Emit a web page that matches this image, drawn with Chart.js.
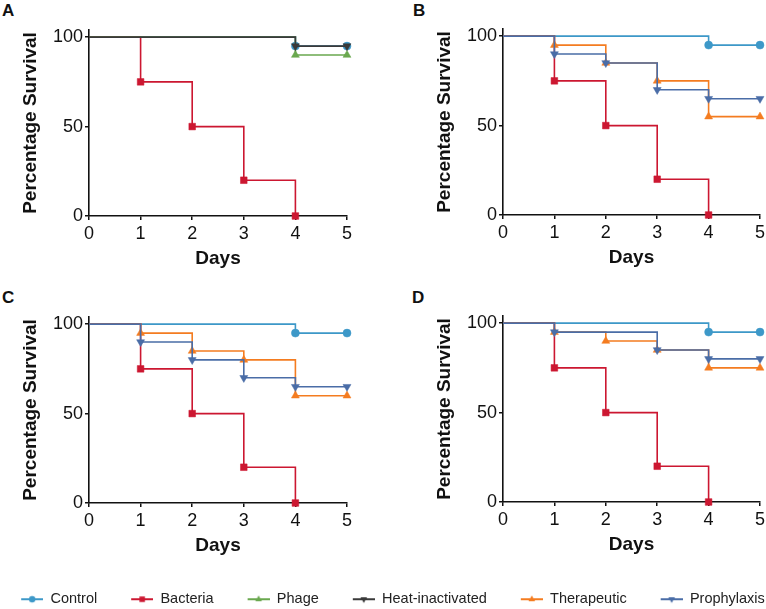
<!DOCTYPE html>
<html>
<head>
<meta charset="utf-8">
<script src="https://cdn.jsdelivr.net/npm/chart.js@4.4.1/dist/chart.umd.min.js"></script>
<style>
  html, body { margin: 0; padding: 0; background: #fff; overflow: hidden; }
  body { width: 766px; height: 609px; position: relative; font-family: "Liberation Sans", Arial, sans-serif; }
  canvas { position: absolute; }
  .tag { position: absolute; font-weight: bold; font-size: 17px; line-height: 1; color: #111; }
</style>
</head>
<body>
<div class="tag" style="left:2px;top:2px">A</div>
<div class="tag" style="left:413px;top:2px">B</div>
<div class="tag" style="left:2px;top:289px">C</div>
<div class="tag" style="left:412px;top:289px">D</div>

<canvas id="chartA" width="383" height="280" style="left:0;top:0"></canvas>
<canvas id="chartB" width="383" height="280" style="left:383px;top:0"></canvas>
<canvas id="chartC" width="383" height="280" style="left:0;top:287px"></canvas>
<canvas id="chartD" width="383" height="280" style="left:383px;top:287px"></canvas>
<canvas id="legend" width="800" height="60" style="left:-19px;top:582px"></canvas>

<script>
const days = [0, 1, 2, 3, 4, 5];
const survivalTicks = [0, 50, 100];
const groups = ['Control', 'Bacteria', 'Phage', 'Heat-inactivated', 'Therapeutic', 'Prophylaxis'];

// percentage survival at each day (null = nobody left)
const controlA = [100, 100, 100, 100, 95, 95];
const bacteriaA = [100, 75, 50, 20, 0, null];
const phageA = [100, 100, 100, 100, 90, 90];
const heatA = [100, 100, 100, 100, 95, 95];

const controlB = [100, 100, 100, 100, 95, 95];
const bacteriaB = [100, 75, 50, 20, 0, null];
const therapeuticB = [100, 95, 85, 75, 55, 55];
const prophylaxisB = [100, 90, 85, 70, 65, 65];

const controlC = [100, 100, 100, 100, 95, 95];
const bacteriaC = [100, 75, 50, 20, 0, null];
const therapeuticC = [100, 95, 85, 80, 60, 60];
const prophylaxisC = [100, 90, 80, 70, 65, 65];

const controlD = [100, 100, 100, 100, 95, 95];
const bacteriaD = [100, 75, 50, 20, 0, null];
const therapeuticD = [100, 95, 90, 85, 75, 75];
const prophylaxisD = [100, 95, 95, 85, 80, 80];

const FONT = '"Liberation Sans", Arial, sans-serif';
const INK = '#111';
Chart.defaults.font.family = FONT;

const look = {
  'Control':          { color: '#3d98c8', style: 'circle',   rot: 0,   r: 4.0 },
  'Bacteria':         { color: '#cc1731', style: 'rect',     rot: 0,   r: 4.7 },
  'Phage':            { color: '#6aa84f', style: 'triangle', rot: 0,   r: 4.6 },
  'Heat-inactivated': { color: '#3a3a3a', style: 'triangle', rot: 180, r: 4.6 },
  'Therapeutic':      { color: '#f47c20', style: 'triangle', rot: 0,   r: 4.6 },
  'Prophylaxis':      { color: '#4a6da7', style: 'triangle', rot: 180, r: 4.6 }
};

// Kaplan-Meier style points: start, every drop, and the last day
function kmPoints(values) {
  const pts = [];
  values.forEach((v, i) => {
    if (v === null) return;
    if (i === 0 || v !== values[i - 1] || i === values.length - 1) {
      pts.push({ x: days[i], y: v });
    }
  });
  return pts;
}

function series(name, values, idx, n) {
  const s = look[name];
  return {
    label: name,
    data: kmPoints(values),
    stepped: true,
    borderColor: s.color,
    backgroundColor: s.color,
    borderWidth: 1.6,
    pointStyle: s.style,
    pointRotation: s.rot,
    pointRadius: ctx => ctx.dataIndex === 0 ? 0 : s.r,
    pointBorderWidth: 0.5,
    pointBorderColor: s.color,
    pointBackgroundColor: s.color,
    clip: false,
    order: n - idx
  };
}

function makePanel(id, names, values, pad) {
  const sets = names.map((nm, i) => series(nm, values[i], i, names.length));
  return new Chart(document.getElementById(id), {
    type: 'line',
    data: { datasets: sets },
    options: {
      responsive: false,
      animation: false,
      layout: { padding: pad },
      plugins: { legend: { display: false }, tooltip: { enabled: false } },
      scales: {
        x: {
          type: 'linear', min: 0, max: 5,
          afterBuildTicks: axis => { axis.ticks = days.map(v => ({ value: v })); },
          afterFit: axis => { axis.height = 54; axis.paddingLeft = 0; axis.paddingRight = 0; },
          grid: { display: true, drawOnChartArea: false, drawTicks: true, tickLength: 4, color: INK, lineWidth: 1.5 },
          border: { display: true, color: INK, width: 1.6 },
          ticks: { color: INK, font: { size: 18 }, padding: 3, maxRotation: 0 },
          title: { display: true, text: 'Days', color: INK, font: { size: 19, weight: 'bold' }, padding: 0 }
        },
        y: {
          type: 'linear', min: 0, max: 104,
          afterBuildTicks: axis => { axis.ticks = survivalTicks.map(v => ({ value: v })); },
          afterFit: axis => { axis.width = 89; axis.paddingTop = 0; axis.paddingBottom = 0; },
          grid: { display: true, drawOnChartArea: false, drawTicks: true, tickLength: 4, color: INK, lineWidth: 1.5 },
          border: { display: true, color: INK, width: 1.6 },
          ticks: { color: INK, font: { size: 18 }, padding: 2 },
          title: { display: true, text: 'Percentage Survival', color: INK, font: { size: 19, weight: 'bold' }, padding: { top: 19, bottom: 0 } }
        }
      }
    }
  });
}

makePanel('chartA', ['Control', 'Bacteria', 'Phage', 'Heat-inactivated'],
  [controlA, bacteriaA, phageA, heatA], { left: 0, right: 36, top: 30, bottom: 10 });
makePanel('chartB', ['Control', 'Bacteria', 'Therapeutic', 'Prophylaxis'],
  [controlB, bacteriaB, therapeuticB, prophylaxisB], { left: 31, right: 6, top: 29, bottom: 11 });
makePanel('chartC', ['Control', 'Bacteria', 'Therapeutic', 'Prophylaxis'],
  [controlC, bacteriaC, therapeuticC, prophylaxisC], { left: 0, right: 36, top: 30, bottom: 10 });
makePanel('chartD', ['Control', 'Bacteria', 'Therapeutic', 'Prophylaxis'],
  [controlD, bacteriaD, therapeuticD, prophylaxisD], { left: 31, right: 6, top: 29, bottom: 11 });

// legend icon: a short line with the marker, left part left blank as spacing
function makeIcon(name) {
  const s = look[name];
  const c = document.createElement('canvas');
  c.width = 46; c.height = 12;
  const g = c.getContext('2d');
  g.strokeStyle = s.color;
  g.lineWidth = 2;
  g.beginPath(); g.moveTo(24, 6); g.lineTo(46, 6); g.stroke();
  g.fillStyle = s.color;
  Chart.helpers.drawPoint(g, { pointStyle: s.style, rotation: s.rot, radius: s.r - 0.8, borderWidth: 0 }, 35, 6);
  return c;
}
const icons = groups.map(makeIcon);

new Chart(document.getElementById('legend'), {
  type: 'line',
  data: { datasets: groups.map(g => ({ label: g, data: [] })) },
  options: {
    responsive: false,
    animation: false,
    layout: { padding: 0 },
    scales: { x: { display: false }, y: { display: false } },
    plugins: {
      tooltip: { enabled: false },
      legend: {
        position: 'top',
        align: 'center',
        labels: {
          usePointStyle: true,
          pointStyleWidth: 46,
          padding: 10,
          color: '#222',
          font: { size: 14.5 },
          generateLabels: () => groups.map((g, i) => ({
            text: g, pointStyle: icons[i], datasetIndex: i, hidden: false,
            fontColor: '#222', lineWidth: 0, strokeStyle: 'rgba(0,0,0,0)', fillStyle: 'rgba(0,0,0,0)'
          }))
        }
      }
    }
  }
});
</script>
</body>
</html>
